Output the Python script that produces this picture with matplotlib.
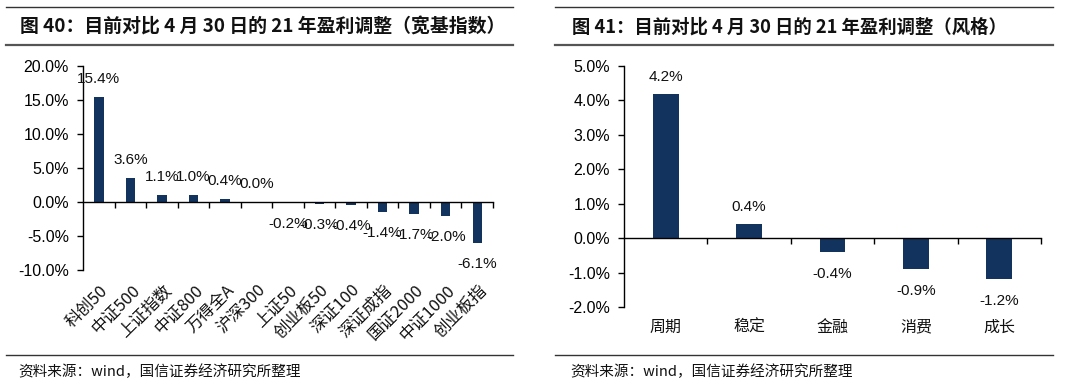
import matplotlib
matplotlib.use("Agg")
import matplotlib.pyplot as plt
from matplotlib.lines import Line2D
import numpy as np

plt.rcParams['font.family'] = ['Liberation Sans', 'Noto Sans CJK SC', 'DejaVu Sans']

# ---------------- data ----------------
left_title = "图 40：目前对比 4 月 30 日的 21 年盈利调整（宽基指数）"
left_categories = ["科创50", "中证500", "上证指数", "中证800", "万得全A", "沪深300",
                   "上证50", "创业板50", "深证100", "深证成指", "国证2000", "中证1000", "创业板指"]
left_values = [15.4, 3.6, 1.1, 1.0, 0.4, 0.0, -0.2, -0.3, -0.4, -1.4, -1.7, -2.0, -6.1]
left_yticks = [-10, -5, 0, 5, 10, 15, 20]

right_title = "图 41：目前对比 4 月 30 日的 21 年盈利调整（风格）"
right_categories = ["周期", "稳定", "金融", "消费", "成长"]
right_values = [4.2, 0.4, -0.4, -0.9, -1.2]
right_yticks = [-2, -1, 0, 1, 2, 3, 4, 5]

source_text = "资料来源：wind，国信证券经济研究所整理"

BAR = "#13335f"
W, H = 1080, 388
fig = plt.figure(figsize=(W / 100, H / 100), dpi=100)
fig.patch.set_facecolor("white")

CJK = ['Noto Sans CJK SC', 'DejaVu Sans']


def px_axes(x0, x1, ytop, ybot):
    return fig.add_axes([x0 / W, (H - ybot) / H, (x1 - x0) / W, (ybot - ytop) / H])


def frame(x0, x1, title, tx, tsize):
    # title rules
    fig.add_artist(Line2D([x0 / W, x1 / W], [1 - 7 / H, 1 - 7 / H], color="#333333", lw=1.0))
    fig.add_artist(Line2D([x0 / W, x1 / W], [1 - 45 / H, 1 - 45 / H], color="#555555", lw=1.6))
    fig.add_artist(Line2D([x0 / W, x1 / W], [1 - 355 / H, 1 - 355 / H], color="#333333", lw=1.0))
    fig.text(tx / W, 1 - 27 / H, title, fontsize=tsize, fontweight="bold", family=CJK,
             ha="left", va="center", color="#111111")
    fig.text((tx - 2) / W, 1 - 372 / H, source_text, fontsize=10.5, family=CJK,
             ha="left", va="center", color="#111111")


def panel(ax, cats, vals, yticks, up_off, dn_off):
    n = len(cats)
    x = np.arange(n)
    ax.bar(x, vals, width=0.3 if n > 5 else 0.31, color=BAR, zorder=2)
    ax.set_xlim(-0.5, n - 0.5)
    ax.set_ylim(yticks[0], yticks[-1])
    ax.set_yticks(yticks)
    ax.set_yticklabels([f"{v:.1f}%" for v in yticks], fontsize=11.5)
    for s in ["top", "right"]:
        ax.spines[s].set_visible(False)
    ax.spines["bottom"].set_position(("data", 0))
    ax.spines["left"].set_linewidth(1.0)
    ax.spines["bottom"].set_linewidth(1.0)
    ax.tick_params(axis="y", direction="out", length=4, width=1, pad=6)
    # boundary ticks on x axis
    ax.set_xticks(np.arange(n) + 0.5)
    ax.set_xticklabels([])
    ax.tick_params(axis="x", which="major", direction="out", length=4, width=1)
    ax.set_xticks(x, minor=True)
    ax.tick_params(axis="x", which="minor", length=0)
    ax.patch.set_alpha(0)
    for xi, v in zip(x, vals):
        off = up_off if v >= 0 else dn_off
        ax.annotate(f"{v:.1f}%", (xi, v), xytext=(0, off), textcoords="offset pixels",
                    ha="center", va="center", fontsize=11, color="#111111")
    return x


# ---------------- left panel ----------------
frame(6, 513, left_title, 20, 13.6)
axL = px_axes(83, 493, 66, 270)
xL = panel(axL, left_categories, left_values, left_yticks, 18, -21)
for xi, c in zip(xL, left_categories):
    axL.annotate(c, (xi, -10), xytext=(1, -12), textcoords="offset pixels",
                 rotation=45, fontsize=12, family=CJK, ha="right", va="top",
                 rotation_mode="anchor", color="#111111")

# ---------------- right panel ----------------
frame(555, 1053, right_title, 572, 13.2)
axR = px_axes(624, 1041, 66, 307)
xR = panel(axR, right_categories, right_values, right_yticks, 17, -22)
for xi, c in zip(xR, right_categories):
    axR.annotate(c, (xi, -2), xytext=(0, -20), textcoords="offset pixels",
                 fontsize=11.5, family=CJK, ha="center", va="center", color="#111111")

fig.savefig("out.png", dpi=100, facecolor="white")
